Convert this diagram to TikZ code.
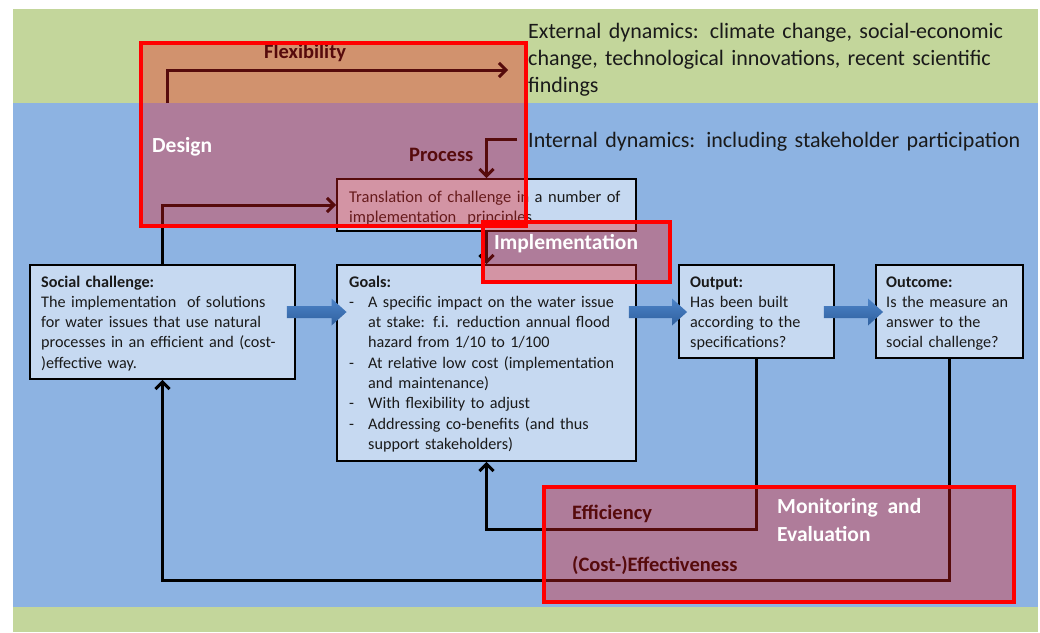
\documentclass[tikz,border=0pt]{standalone}
\usepackage{fontspec}
\setmainfont{Carlito}
\usetikzlibrary{arrows.meta,calc}
\definecolor{greenbg}{HTML}{C3D69B}
\definecolor{bluebg}{HTML}{8DB3E2}
\definecolor{boxfill}{HTML}{C6D9F1}
\definecolor{ovred}{HTML}{EB1E21}
\definecolor{fattop}{HTML}{4D84C8}
\definecolor{fatbot}{HTML}{2F609F}
\definecolor{txt}{HTML}{1A1A1A}
\newcommand\fatarr[2]{\shade[top color=fattop,bottom color=fatbot] let \p1=(#1), \p2=(#2) in
  (\x1,\y1+6pt) -- (\x2-15pt,\y1+6pt) -- (\x2-15pt,\y1+13.5pt) -- (\x2,\y1) --
  (\x2-15pt,\y1-13.5pt) -- (\x2-15pt,\y1-6pt) -- (\x1,\y1-6pt) -- cycle;}
\tikzset{
  boxnode/.style={draw=black, line width=1.9pt, fill=boxfill, inner sep=0pt, rectangle},
  boxtext/.style={anchor=base west, inner sep=0pt, align=left, text=txt,
    font=\fontsize{16.2}{20.3}\selectfont},
  conn/.style={line width=3pt, draw=black, -{Straight Barb[length=7pt,width=14pt]}},
  darklabel/.style={anchor=base west, inner sep=0pt, text=black, font=\fontsize{20.5}{24}\selectfont\bfseries},
  whitelabel/.style={anchor=base west, inner sep=0pt, text=white, font=\fontsize{21.5}{28}\selectfont\bfseries, align=left},
  overlay/.style={rectangle, inner sep=0pt, fill=ovred, fill opacity=0.37},
  redborder/.style={rectangle, inner sep=0pt, draw=red, line width=3.2pt},
  dyn/.style={anchor=base west, inner sep=0pt, align=left, text=txt, font=\fontsize{22}{27}\selectfont}
}
\begin{document}
\begin{tikzpicture}[x=1pt,y=-1pt]
\fill[white] (0,0) rectangle (1040,632);
\useasboundingbox (0,0) rectangle (1040,632);
% bands
\fill[greenbg] (13,9) rectangle (1038,632);
\fill[bluebg] (13,103) rectangle (1038,607);

% boxes
\node[boxnode, minimum width=265pt, minimum height=114pt] (soc) at (162.5,322) {};
\node[boxnode, minimum width=299pt, minimum height=196pt] (goals) at (486.5,363) {};
\node[boxnode, minimum width=299pt, minimum height=52pt] (trans) at (486.5,205) {};
\node[boxnode, minimum width=155pt, minimum height=93pt] (outp) at (756.5,311.5) {};
\node[boxnode, minimum width=147pt, minimum height=93pt] (outc) at (949.5,311.5) {};

% box texts
\node[boxtext, text width=260pt] (soctxt) at (41,287) {\textbf{Social challenge:}\\
The implementation\ \ of solutions\\
for water issues that use natural\\
processes in an efficient and (cost-\\
)effective way.};
\node[boxtext, text width=300pt] (goalstxt) at (349,287) {\textbf{Goals:}\\
\makebox[19pt][l]{-}A specific impact on the water issue\\
\hspace*{19pt}at stake: f.i. reduction\ annual\ flood\\
\hspace*{19pt}hazard from 1/10 to 1/100\\
\makebox[19pt][l]{-}At relative low cost (implementation\\
\hspace*{19pt}and maintenance)\\
\makebox[19pt][l]{-}With flexibility to adjust\\
\makebox[19pt][l]{-}Addressing co-benefits (and thus\\
\hspace*{19pt}support stakeholders)};
\node[boxtext, text width=300pt, font=\fontsize{16.5}{19.5}\selectfont] (transtxt) at (349,202.5) {Translation of challenge in a number of\\
implementation\ \ principles};
\node[boxtext, text width=150pt] (outptxt) at (690,287) {\textbf{Output:}\\
Has been built\\
according to the\\
specifications?};
\node[boxtext, text width=150pt] (outctxt) at (886,287) {\textbf{Outcome:}\\
Is the measure an\\
answer to the\\
social challenge?};

% dynamics texts
\node[dyn, text width=500pt] (ext) at (528,38) {External dynamics: climate change, social-economic\\
change, technological innovations, recent scientific\\
findings};
\node[dyn, text width=500pt] (int) at (528,147) {Internal dynamics: including stakeholder participation};

% connectors
\coordinate (flexs) at (167,103);
\coordinate (flexe) at (508,70);
\coordinate (procs) at (517,139);
\coordinate (effc) at (0,529);
\coordinate (effv) at (0,580);
\coordinate (fy) at (0,312);
\draw[conn] (flexs) |- (flexe);
\draw[conn] (procs) -| (trans.north);
\draw[conn] (soc.north) |- (trans.west);
\draw[conn] (trans.south) -- (goals.north);
\draw[conn] (outp.south) -- (outp.south |- effc) -| (goals.south);
\draw[conn] (outc.south) -- (outc.south |- effv) -| (soc.south);

% fat arrows
\coordinate (f1s) at ($(soc.east |- fy)+(-9,0)$);
\coordinate (f1e) at ($(goals.west |- fy)+(10.5,0)$);
\coordinate (f2s) at ($(goals.east |- fy)+(-8,0)$);
\coordinate (f2e) at ($(outp.west |- fy)+(9,0)$);
\coordinate (f3s) at ($(outp.east |- fy)+(-11,0)$);
\coordinate (f3e) at ($(outc.west |- fy)+(8,0)$);
\fatarr{f1s}{f1e}
\fatarr{f2s}{f2e}
\fatarr{f3s}{f3e}

% dark labels (under overlays)
\node[darklabel] (flexl) at (264,58) {Flexibility};
\node[darklabel] (procl) at (409,161) {Process};
\node[darklabel] (effl) at (572,519) {Efficiency};
\node[darklabel] (costl) at (572,571) {(Cost-)Effectiveness};

% overlays
\node[overlay, minimum width=385pt, minimum height=183pt] (design) at (333.5,134.5) {};
\node[overlay, minimum width=187pt, minimum height=60pt] (impl) at (576.5,252) {};
\node[overlay, minimum width=470pt, minimum height=115pt] (moni) at (779,544.5) {};
\node[redborder, minimum width=385pt, minimum height=183pt] (designb) at (333.5,134.5) {};
\node[redborder, minimum width=187pt, minimum height=60pt] (implb) at (576.5,252) {};
\node[redborder, minimum width=470pt, minimum height=115pt] (monib) at (779,544.5) {};

% white labels
\node[whitelabel] (designl) at (152,152) {Design};
\node[whitelabel] (impll) at (494,249) {Implementation};
\node[whitelabel] (monil) at (777,513) {Monitoring\ \ and};
\node[whitelabel] (evall) at (777,541) {Evaluation};
\end{tikzpicture}
\end{document}
